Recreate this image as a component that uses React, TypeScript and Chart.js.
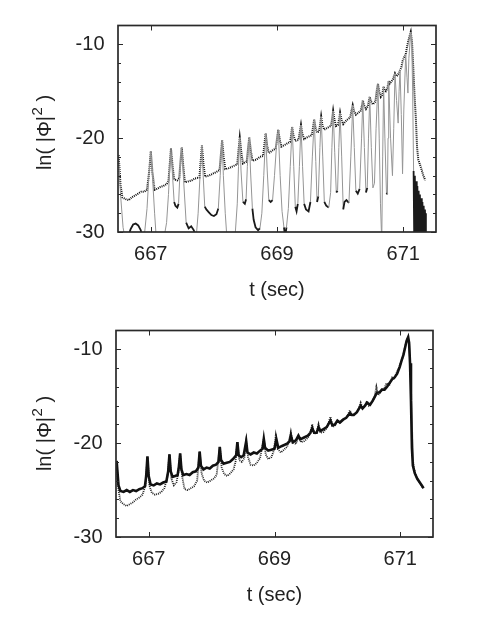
import React, { useEffect, useRef } from 'react';
import { Chart, registerables } from 'chart.js';

Chart.register(...registerables);

// ---------- axis definitions ----------
const xTicks = [667, 669, 671];
const yTicks = [-30, -20, -10];
const yMinorTicks = [-28, -26, -24, -22, -18, -16, -14, -12];
const xMin = 666.48;
const xMax = 671.52;
const yMin = -30;
const yMax = -8;
const yTitleParts = ['ln( |Φ|', '2', ' )'];
const xTitle = 't (sec)';

// ---------- top panel ----------
const topDotted: [number, number][] = [
  [666.49, -21.8], [666.52, -25.0], [666.55, -26.3], [666.6, -26.5], [666.65, -26.6], [666.7, -26.3], [666.75, -26.1],
  [666.8, -25.9], [666.85, -25.7], [666.9, -25.7], [666.94, -25.5], [666.975, -23.5], [667.0, -21.4], [667.025, -23.6],
  [667.06, -25.5], [667.1, -25.4], [667.15, -25.2], [667.2, -25.1], [667.25, -24.9], [667.28, -24.6], [667.3, -22.8],
  [667.32, -21.1], [667.345, -23.0], [667.37, -24.4], [667.42, -24.5], [667.45, -24.3], [667.47, -22.5], [667.49, -21.0],
  [667.515, -23.0], [667.54, -24.7], [667.6, -24.6], [667.65, -24.5], [667.7, -24.3], [667.77, -24.2], [667.79, -22.5],
  [667.81, -20.8], [667.835, -22.8], [667.86, -24.1], [667.92, -24.0], [667.98, -23.8], [668.04, -23.6], [668.09, -23.4],
  [668.11, -21.8], [668.13, -20.2], [668.155, -22.0], [668.18, -23.3], [668.24, -23.2], [668.3, -23.0], [668.37, -22.8],
  [668.39, -21.3], [668.41, -19.95], [668.435, -21.5], [668.46, -22.7], [668.49, -22.6], [668.52, -22.5], [668.54, -21.2],
  [668.56, -19.9], [668.585, -21.3], [668.61, -22.4], [668.67, -22.3], [668.73, -22.0], [668.78, -21.9], [668.8, -20.7],
  [668.82, -19.5], [668.845, -20.8], [668.87, -21.6], [668.93, -21.3], [668.98, -21.1], [669.0, -20.1], [669.02, -19.1],
  [669.045, -20.2], [669.07, -20.9], [669.13, -20.7], [669.18, -20.5], [669.21, -20.4], [669.225, -19.6], [669.24, -18.8],
  [669.26, -19.7], [669.29, -20.3], [669.34, -20.2], [669.36, -19.4], [669.38, -18.6], [669.4, -19.5], [669.43, -20.1],
  [669.48, -19.9], [669.55, -19.7], [669.57, -18.9], [669.59, -18.0], [669.61, -18.9], [669.635, -19.4], [669.665, -19.3],
  [669.685, -18.5], [669.7, -17.7], [669.72, -18.6], [669.75, -19.1], [669.8, -18.9], [669.855, -18.7], [669.875, -17.9],
  [669.89, -17.1], [669.91, -18.0], [669.935, -18.7], [669.965, -18.6], [669.985, -18.0], [670.0, -17.3], [670.02, -18.0],
  [670.05, -18.5], [670.1, -18.1], [670.16, -17.8], [670.18, -17.1], [670.2, -16.5], [670.22, -17.1], [670.25, -17.5],
  [670.29, -17.3], [670.325, -17.1], [670.345, -16.6], [670.36, -16.0], [670.38, -16.5], [670.41, -16.9], [670.44, -16.6],
  [670.455, -16.1], [670.47, -15.6], [670.49, -16.1], [670.52, -16.4], [670.56, -16.1], [670.58, -15.0], [670.6, -14.2],
  [670.62, -15.0], [670.645, -15.6], [670.665, -15.4], [670.68, -14.9], [670.69, -14.5], [670.705, -14.9], [670.725, -15.0],
  [670.75, -14.7], [670.76, -14.3], [670.77, -13.9], [670.785, -14.2], [670.81, -14.0], [670.84, -13.7], [670.855, -13.4],
  [670.87, -13.1], [670.885, -13.3], [670.9, -13.4], [670.93, -13.1], [670.95, -12.75], [670.97, -12.5], [670.99, -11.8],
  [671.02, -11.3], [671.04, -11.1], [671.06, -10.3], [671.09, -9.4], [671.12, -8.7], [671.14, -9.8], [671.16, -12.5],
  [671.18, -15.5], [671.2, -17.8], [671.22, -21.0], [671.24, -22.3], [671.28, -23.1], [671.32, -24.0], [671.35, -24.5],
];

const topSolid: [number, number][] = [
  [666.49, -21.8], [666.52, -26.0], [666.56, -29.5], [666.6, -31], [666.65, -30.3], [666.68, -29.7], [666.72, -29.2],
  [666.76, -29.1], [666.8, -29.3], [666.84, -29.8], [666.87, -30.6], [666.9, -30.2], [666.94, -27.5], [666.97, -24.0],
  [667.0, -21.4], [667.03, -24.5], [667.06, -28.0], [667.09, -31], [667.2, -31], [667.25, -29.0], [667.28, -26.0],
  [667.3, -23.2], [667.32, -21.1], [667.34, -23.5], [667.37, -26.8], [667.39, -27.2], [667.42, -27.4], [667.44, -27.0],
  [667.46, -24.0], [667.49, -21.0], [667.52, -24.5], [667.56, -29.0], [667.6, -29.6], [667.64, -29.4], [667.68, -29.8],
  [667.72, -30.5], [667.75, -28.0], [667.78, -24.0], [667.81, -20.8], [667.83, -24.0], [667.855, -27.3], [667.88, -27.6],
  [667.92, -27.9], [667.96, -28.2], [668.0, -28.3], [668.04, -28.1], [668.07, -27.5], [668.1, -24.0], [668.13, -20.2],
  [668.15, -24.0], [668.18, -28.0], [668.21, -31], [668.33, -31], [668.37, -27.0], [668.39, -23.0], [668.41, -19.95],
  [668.43, -23.5], [668.46, -26.8], [668.49, -27.0], [668.51, -26.5], [668.53, -23.0], [668.56, -19.9], [668.58, -23.5],
  [668.61, -27.5], [668.63, -28.7], [668.66, -29.5], [668.7, -29.8], [668.73, -29.6], [668.76, -28.0], [668.79, -24.0],
  [668.82, -19.5], [668.845, -23.5], [668.87, -26.6], [668.9, -26.8], [668.93, -26.6], [668.96, -24.0], [668.99, -21.0],
  [669.02, -19.1], [669.05, -24.0], [669.08, -27.8], [669.11, -29.5], [669.13, -30.5], [669.15, -29.5], [669.18, -27.5],
  [669.21, -23.0], [669.24, -18.8], [669.265, -23.0], [669.29, -27.3], [669.31, -27.8], [669.33, -27.0], [669.355, -23.0],
  [669.38, -18.6], [669.405, -23.0], [669.43, -27.0], [669.46, -27.6], [669.5, -27.8], [669.53, -26.8], [669.56, -22.0],
  [669.59, -18.0], [669.615, -22.5], [669.635, -26.8], [669.655, -26.2], [669.68, -21.0], [669.7, -17.7], [669.725, -22.0],
  [669.75, -26.8], [669.78, -27.2], [669.82, -27.4], [669.85, -25.8], [669.87, -21.0], [669.89, -17.1], [669.915, -21.5],
  [669.94, -25.8], [669.96, -25.6], [669.98, -21.0], [670.0, -17.3], [670.025, -22.0], [670.05, -27.6], [670.07, -26.8],
  [670.1, -26.6], [670.14, -26.9], [670.17, -22.0], [670.2, -16.5], [670.225, -21.0], [670.25, -25.6], [670.28, -25.9],
  [670.31, -25.4], [670.34, -20.0], [670.36, -16.0], [670.385, -21.0], [670.41, -25.8], [670.43, -25.3], [670.45, -20.0],
  [670.47, -15.6], [670.495, -21.0], [670.52, -25.3], [670.545, -24.8], [670.57, -19.0], [670.6, -14.2], [670.62, -20.0],
  [670.64, -27.0], [670.66, -31], [670.675, -22.0], [670.69, -14.5], [670.71, -20.0], [670.735, -25.8], [670.75, -26.0],
  [670.76, -20.0], [670.77, -13.9], [670.8, -20.0], [670.83, -24.0], [670.85, -19.0], [670.87, -13.1], [670.895, -16.0],
  [670.92, -18.4], [670.935, -15.0], [670.95, -12.75], [670.97, -17.5], [670.99, -23.8], [671.01, -17.0], [671.04, -11.1],
  [671.06, -13.5], [671.075, -15.2], [671.09, -11.5], [671.12, -8.7], [671.135, -9.5], [671.15, -15.0], [671.165, -23.5],
  [671.175, -31], [671.185, -24.0], [671.195, -31], [671.205, -24.6], [671.215, -31], [671.225, -25.1], [671.235, -31],
  [671.245, -25.6], [671.255, -31], [671.265, -26.0], [671.275, -31], [671.285, -26.4], [671.295, -31], [671.305, -26.8],
  [671.315, -31], [671.325, -27.2], [671.335, -31], [671.345, -27.6], [671.355, -31], [671.36, -28.0],
];

// ---------- bottom panel ----------
const bottomSolid: [number, number][] = [
  [666.49, -21.9], [666.52, -24.5], [666.55, -25.1], [666.6, -25.2], [666.65, -25.0], [666.7, -25.2], [666.75, -25.0],
  [666.8, -25.1], [666.85, -24.9], [666.9, -24.8], [666.94, -24.6], [666.96, -23.5], [666.98, -21.4], [667.0, -23.5],
  [667.03, -24.4], [667.08, -24.5], [667.13, -24.3], [667.18, -24.4], [667.23, -24.2], [667.28, -24.1], [667.31, -23.0],
  [667.33, -21.2], [667.35, -23.0], [667.38, -23.6], [667.42, -23.5], [667.46, -23.4], [667.48, -22.5], [667.5, -21.1],
  [667.52, -22.8], [667.55, -23.4], [667.6, -23.3], [667.65, -23.4], [667.7, -23.1], [667.75, -23.0], [667.79, -22.6],
  [667.81, -20.9], [667.83, -22.4], [667.87, -22.8], [667.92, -22.6], [667.97, -22.7], [668.02, -22.4], [668.07, -22.3],
  [668.11, -22.0], [668.13, -20.4], [668.15, -21.8], [668.19, -22.2], [668.24, -22.1], [668.29, -22.0], [668.34, -21.7],
  [668.39, -21.3], [668.41, -19.9], [668.43, -21.3], [668.47, -21.5], [668.51, -21.3], [668.55, -19.8], [668.57, -21.0],
  [668.62, -21.2], [668.67, -21.0], [668.72, -21.1], [668.77, -20.8], [668.81, -20.6], [668.83, -19.55], [668.85, -20.5],
  [668.9, -20.8], [668.95, -20.7], [669.0, -20.6], [669.03, -19.6], [669.06, -20.5], [669.12, -20.3], [669.2, -20.05],
  [669.24, -19.8], [669.26, -19.2], [669.29, -19.9], [669.34, -19.7], [669.38, -19.2], [669.41, -19.6], [669.47, -19.4],
  [669.53, -19.2], [669.57, -18.9], [669.6, -18.4], [669.63, -18.9], [669.67, -18.9], [669.7, -18.3], [669.73, -18.7],
  [669.78, -18.5], [669.83, -18.3], [669.89, -17.6], [669.92, -18.1], [669.96, -18.0], [670.0, -17.6], [670.04, -17.8],
  [670.09, -17.5], [670.14, -17.3], [670.2, -16.8], [670.23, -17.0], [670.26, -17.0], [670.31, -16.7], [670.37, -16.0],
  [670.4, -16.3], [670.44, -16.0], [670.47, -15.7], [670.52, -15.9], [670.56, -15.5], [670.6, -15.0], [670.63, -14.6],
  [670.67, -14.6], [670.71, -14.3], [670.75, -14.3], [670.79, -14.0], [670.83, -13.6], [670.87, -13.2], [670.91, -13.0],
  [670.95, -12.6], [670.99, -11.9], [671.02, -11.2], [671.05, -10.6], [671.08, -9.7], [671.1, -9.1], [671.125, -8.7],
  [671.14, -9.3], [671.155, -11.5], [671.17, -15.5], [671.185, -20.5], [671.2, -22.4], [671.23, -23.2], [671.27, -23.8],
  [671.31, -24.2], [671.35, -24.6], [671.37, -24.8],
];

const bottomDotted: [number, number][] = [
  [666.49, -22.0], [666.52, -25.0], [666.55, -26.2], [666.6, -26.5], [666.65, -26.7], [666.7, -26.5], [666.75, -26.3],
  [666.8, -26.0], [666.85, -25.8], [666.9, -25.5], [666.95, -24.5], [666.98, -21.5], [667.01, -24.5], [667.05, -25.3],
  [667.1, -25.5], [667.15, -25.4], [667.2, -25.2], [667.25, -24.8], [667.3, -23.5], [667.33, -21.2], [667.36, -23.8],
  [667.4, -24.5], [667.44, -24.2], [667.47, -23.2], [667.5, -21.1], [667.53, -23.5], [667.57, -24.9], [667.62, -25.0],
  [667.67, -24.8], [667.72, -24.6], [667.77, -24.0], [667.81, -20.9], [667.84, -23.2], [667.88, -24.0], [667.93, -24.2],
  [667.98, -24.0], [668.03, -23.8], [668.08, -23.4], [668.13, -20.4], [668.16, -22.6], [668.2, -23.3], [668.25, -23.5],
  [668.3, -23.2], [668.35, -22.8], [668.38, -22.0], [668.41, -19.9], [668.44, -21.8], [668.48, -22.0], [668.52, -21.6],
  [668.55, -19.8], [668.58, -21.5], [668.62, -22.3], [668.67, -22.4], [668.72, -22.1], [668.77, -21.6], [668.83, -19.5],
  [668.86, -21.2], [668.9, -21.7], [668.95, -21.5], [668.99, -20.8], [669.02, -19.2], [669.05, -20.6], [669.1, -21.0],
  [669.15, -20.7], [669.2, -20.4], [669.23, -19.8], [669.26, -18.8], [669.29, -19.9], [669.34, -20.1], [669.38, -19.3],
  [669.42, -19.9], [669.47, -19.8], [669.52, -19.5], [669.57, -19.0], [669.6, -18.0], [669.63, -19.0], [669.67, -18.9],
  [669.7, -18.0], [669.73, -18.9], [669.78, -18.8], [669.83, -18.4], [669.89, -17.2], [669.92, -18.2], [669.96, -18.2],
  [670.0, -17.6], [670.04, -17.8], [670.09, -17.5], [670.14, -17.3], [670.2, -16.5], [670.23, -17.0], [670.28, -16.9],
  [670.33, -16.5], [670.37, -15.7], [670.4, -16.3], [670.44, -16.0], [670.47, -15.5], [670.5, -16.0], [670.55, -15.6],
  [670.59, -15.1], [670.62, -14.0], [670.65, -14.9], [670.7, -14.3], [670.74, -14.3], [670.78, -13.6], [670.82, -13.9],
  [670.87, -13.0], [670.9, -13.1], [670.95, -12.4], [671.0, -11.6], [671.04, -10.8], [671.08, -9.6], [671.12, -8.8],
  [671.14, -9.3], [671.16, -11.8], [671.18, -16.3], [671.2, -21.8], [671.22, -22.8], [671.25, -23.5], [671.29, -24.0],
  [671.33, -24.4], [671.36, -24.8],
];

const FONT_FAMILY = '"Liberation Sans", Arial, Helvetica, sans-serif';
const FONT = { family: FONT_FAMILY, size: 20 };
const TEXT_COLOR = '#222';
const CANVAS_W = 485;
const CANVAS_H = 305;

const framePlugin = {
  id: 'frameTicks',
  afterDatasetsDraw(chart: any) {
    const { ctx, chartArea: a, scales } = chart;
    const x = scales.x;
    const y = scales.y;
    ctx.save();
    ctx.strokeStyle = '#2a2a2a';
    ctx.lineWidth = 1;
    ctx.beginPath();
    xTicks.forEach((v) => {
      const px = Math.round(x.getPixelForValue(v)) + 0.5;
      ctx.moveTo(px, a.bottom);
      ctx.lineTo(px, a.bottom - 5);
      ctx.moveTo(px, a.top);
      ctx.lineTo(px, a.top + 5);
    });
    yTicks.forEach((v) => {
      const py = Math.round(y.getPixelForValue(v)) + 0.5;
      ctx.moveTo(a.left, py);
      ctx.lineTo(a.left + 5, py);
      ctx.moveTo(a.right, py);
      ctx.lineTo(a.right - 5, py);
    });
    yMinorTicks.forEach((v) => {
      const py = Math.round(y.getPixelForValue(v)) + 0.5;
      ctx.moveTo(a.left, py);
      ctx.lineTo(a.left + 3, py);
      ctx.moveTo(a.right, py);
      ctx.lineTo(a.right - 3, py);
    });
    ctx.stroke();
    ctx.lineWidth = 1.7;
    ctx.strokeRect(a.left, a.top, a.right - a.left, a.bottom - a.top);
    ctx.restore();
  },
};

// y-axis title with a true superscript
function makeYTitlePlugin(centerX: number, dy: number) {
  return {
    id: 'yTitleSup',
    afterDraw(chart: any) {
      const { ctx, chartArea: a } = chart;
      const cy = (a.top + a.bottom) / 2 + dy;
      const big = `20px ${FONT_FAMILY}`;
      const small = `15px ${FONT_FAMILY}`;
      ctx.save();
      ctx.font = big;
      const w0 = ctx.measureText(yTitleParts[0]).width;
      const w2 = ctx.measureText(yTitleParts[2]).width;
      ctx.font = small;
      const w1 = ctx.measureText(yTitleParts[1]).width;
      const total = w0 + w1 + w2;
      ctx.translate(centerX, cy);
      ctx.rotate(-Math.PI / 2);
      ctx.fillStyle = TEXT_COLOR;
      ctx.textBaseline = 'alphabetic';
      ctx.textAlign = 'left';
      let xx = -total / 2;
      const base = 7;
      ctx.font = big;
      ctx.fillText(yTitleParts[0], xx, base);
      xx += w0 + 0.5;
      ctx.font = small;
      ctx.fillText(yTitleParts[1], xx, base - 9);
      xx += w1;
      ctx.font = big;
      ctx.fillText(yTitleParts[2], xx, base);
      ctx.restore();
    },
  };
}

function toXY(arr: [number, number][]) {
  return arr.map(([x, y]) => ({ x, y }));
}

function isDarkSeg(c: any) {
  const x0 = c.p0.parsed.x;
  const y0 = c.p0.parsed.y;
  const y1 = c.p1.parsed.y;
  if (x0 >= 671.16) return true;
  return Math.max(y0, y1) < -24.9 && Math.abs(y1 - y0) < 1.3;
}

function buildConfig(panel: 'top' | 'bottom', axisWidth: number, padRight: number, titleDy: number): any {
  const datasets =
    panel === 'top'
      ? [
          {
            data: toXY(topSolid),
            borderColor: '#959595',
            borderWidth: 1,
            pointRadius: 0,
            tension: 0,
            segment: {
              borderColor: (c: any) => (isDarkSeg(c) ? '#1a1a1a' : '#959595'),
              borderWidth: (c: any) => (isDarkSeg(c) ? 1.8 : 1),
            },
          },
          {
            data: toXY(topDotted),
            borderColor: '#111',
            borderWidth: 2,
            borderDash: [1, 1],
            pointRadius: 0,
            tension: 0,
          },
        ]
      : [
          {
            data: toXY(bottomSolid),
            borderColor: '#111',
            borderWidth: 2.6,
            pointRadius: 0,
            tension: 0,
          },
          {
            data: toXY(bottomDotted),
            borderColor: '#222',
            borderWidth: 1.8,
            borderDash: [1, 1],
            pointRadius: 0,
            tension: 0,
          },
        ];

  return {
    type: 'line',
    data: { datasets },
    options: {
      animation: false,
      responsive: false,
      maintainAspectRatio: false,
      events: [],
      layout: { padding: { top: 13, right: padRight, bottom: 0, left: 0 } },
      plugins: { legend: { display: false }, tooltip: { enabled: false } },
      scales: {
        x: {
          type: 'linear',
          min: xMin,
          max: xMax,
          grid: { display: false, drawTicks: false },
          border: { display: false },
          afterBuildTicks: (s: any) => {
            s.ticks = xTicks.map((v) => ({ value: v }));
          },
          afterFit: (s: any) => {
            s.height = CANVAS_H - 232;
          },
          ticks: {
            padding: 10,
            font: FONT,
            color: TEXT_COLOR,
            autoSkip: false,
            maxRotation: 0,
            callback: (v: any) => String(v),
          },
          title: {
            display: true,
            text: xTitle,
            font: FONT,
            color: TEXT_COLOR,
            padding: { top: 0, bottom: 3 },
          },
        },
        y: {
          type: 'linear',
          min: yMin,
          max: yMax,
          grid: { display: false, drawTicks: false },
          border: { display: false },
          afterBuildTicks: (s: any) => {
            s.ticks = yTicks.map((v) => ({ value: v }));
          },
          afterFit: (s: any) => {
            s.width = axisWidth;
          },
          ticks: {
            padding: 13.5,
            font: FONT,
            color: TEXT_COLOR,
            autoSkip: false,
            callback: (v: any) => String(v),
          },
          title: { display: false },
        },
      },
    },
    plugins: [framePlugin, makeYTitlePlugin(44, titleDy)],
  };
}

function Panel({ panel, top, axisWidth, padRight, titleDy }: { panel: 'top' | 'bottom'; top: number; axisWidth: number; padRight: number; titleDy: number }) {
  const ref = useRef<HTMLCanvasElement | null>(null);
  useEffect(() => {
    if (!ref.current) return;
    const chart = new Chart(ref.current, buildConfig(panel, axisWidth, padRight, titleDy));
    return () => chart.destroy();
  }, [panel, axisWidth, padRight, titleDy]);
  return (
    <canvas
      ref={ref}
      width={CANVAS_W}
      height={CANVAS_H}
      style={{ position: 'absolute', left: 0, top, width: CANVAS_W, height: CANVAS_H }}
    />
  );
}

export default function App() {
  return (
    <div style={{ position: 'absolute', left: 0, top: 0, width: 485, height: 627, background: '#fff', overflow: 'hidden' }}>
      <Panel panel="top" top={0} axisWidth={118} padRight={49} titleDy={4} />
      <Panel panel="bottom" top={305} axisWidth={116} padRight={52} titleDy={0} />
    </div>
  );
}
